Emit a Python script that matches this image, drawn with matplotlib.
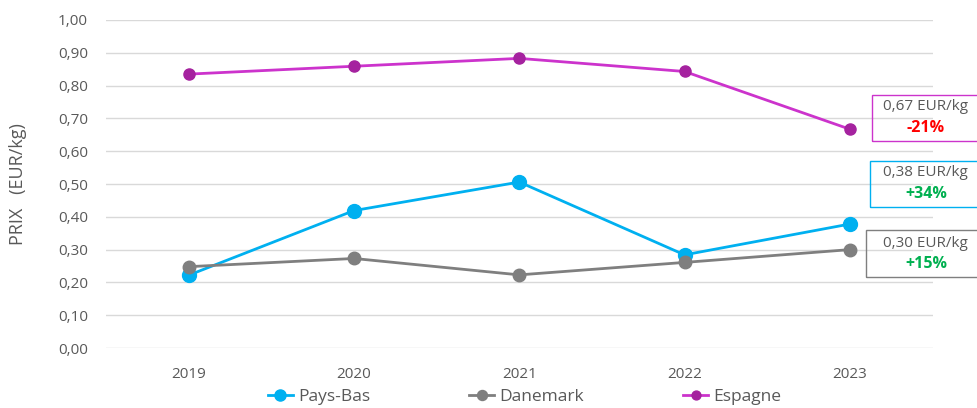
import matplotlib.pyplot as plt
from matplotlib.patches import Rectangle

plt.rcParams['font.family'] = ['Open Sans', 'DejaVu Sans']

years = ['2019', '2020', '2021', '2022', '2023']
pays_bas = [0.222, 0.419, 0.506, 0.284, 0.378]
danemark = [0.248, 0.273, 0.223, 0.261, 0.300]
espagne = [0.835, 0.859, 0.883, 0.843, 0.667]

labels = ['Pays-Bas', 'Danemark', 'Espagne']
line_colors = ['#00B0F0', '#7F7F7F', '#CC33CC']
marker_colors = ['#00B0F0', '#7F7F7F', '#A5229F']
series = [pays_bas, danemark, espagne]

# annotations at the right: price label, change, box colour
ann_price = ['0,38 EUR/kg', '0,30 EUR/kg', '0,67 EUR/kg']
ann_change = ['+34%', '+15%', '-21%']
ann_change_col = ['#00B050', '#00B050', '#FF0000']

txt = '#595959'

fig = plt.figure(figsize=(9.77, 4.08), dpi=100)
ax = fig.add_axes([0.1085, 0.147, 0.846, 0.804])

x = list(range(len(years)))
for vals, lab, lc, mc, ms in zip(series, labels, line_colors, marker_colors, [10, 9, 8]):
    ax.plot(x, vals, color=lc, linewidth=2, marker='o', markersize=ms,
            markerfacecolor=mc, markeredgecolor=mc, label=lab)

ax.set_xlim(-0.5, len(years) - 0.5)
ax.set_ylim(0, 1.0)
ax.set_yticks([i / 10 for i in range(11)])
ax.set_yticklabels([('%.2f' % (i / 10)).replace('.', ',') for i in range(11)])
ax.set_xticks(x)
ax.set_xticklabels(years)
ax.yaxis.grid(True, color='#D9D9D9', linewidth=1)
ax.set_axisbelow(True)
for s in ax.spines.values():
    s.set_visible(False)
ax.tick_params(axis='both', length=0, labelsize=11, colors=txt)
ax.tick_params(axis='y', pad=13)
ax.tick_params(axis='x', pad=14)
ax.set_ylabel('PRIX   (EUR/kg)', fontsize=13, color=txt, labelpad=22)

# boxes with last value and change
box_y = [(0.43, 0.14), (0.216, 0.144), (0.631, 0.14)]
box_x = [4.12, 4.096, 4.133]
text_y = [(0.534, 0.47), (0.32, 0.256), (0.735, 0.671)]
for i in range(3):
    ax.add_patch(Rectangle((box_x[i], box_y[i][0]), 0.9, box_y[i][1],
                           fill=False, edgecolor=line_colors[i], linewidth=1,
                           clip_on=False))
    ax.text(4.46, text_y[i][0], ann_price[i], ha='center', va='center',
            fontsize=11, color=txt, clip_on=False)
    ax.text(4.46, text_y[i][1], ann_change[i], ha='center', va='center',
            fontsize=11.5, fontweight='bold', color=ann_change_col[i], clip_on=False)

leg = fig.legend(loc='lower center', bbox_to_anchor=(0.537, -0.03), ncol=3,
                 frameon=False, fontsize=12.5, handlelength=1.45, handletextpad=0.3,
                 columnspacing=5.7, markerscale=0.8)
for t in leg.get_texts():
    t.set_color(txt)

fig.savefig('out.png', dpi=100)
